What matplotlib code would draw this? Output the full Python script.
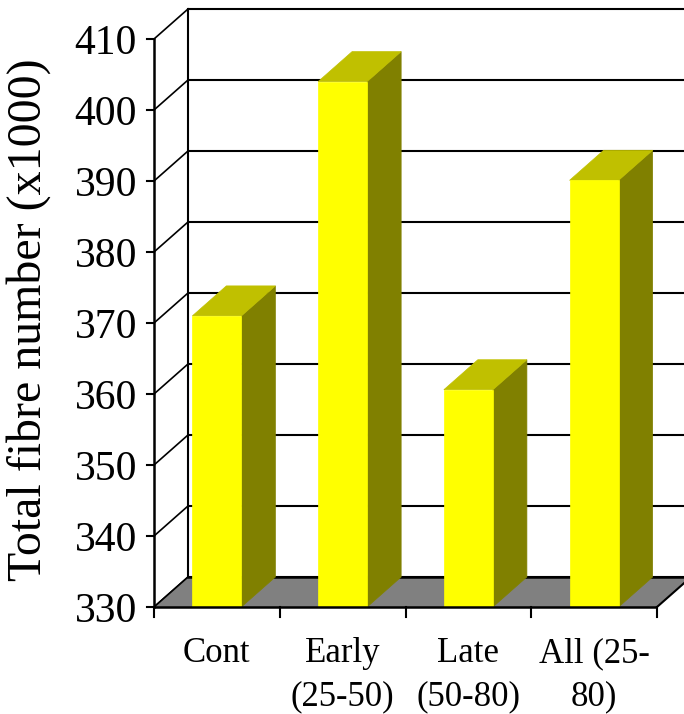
import matplotlib
matplotlib.use("Agg")
import matplotlib.pyplot as plt
from matplotlib.patches import Polygon

categories = ["Cont", "Early\n(25-50)", "Late\n(50-80)", "All (25-\n80)"]
values = [371.0, 404.0, 360.6, 390.1]
y_ticks = [330, 340, 350, 360, 370, 380, 390, 400, 410]
y_label = "Total fibre number (x1000)"

FRONT = "#FFFF00"
TOP = "#C0C000"
SIDE = "#808000"
FLOOR = "#808080"

plt.rcParams["font.family"] = ["Liberation Serif", "DejaVu Serif"]

W, H = 684, 714
fig = plt.figure(figsize=(W / 100, H / 100), dpi=100)
ax = fig.add_axes([0, 0, 1, 1])

# pixel scale of the front plane
px_per_cat = 125.75
px_per_val = 7.1
x0_px, y0_px = 154, 607
vmin, vmax = y_ticks[0], y_ticks[-1]
ax.set_xlim(-x0_px / px_per_cat, (W - x0_px) / px_per_cat)
ax.set_ylim(vmin - (H - y0_px) / px_per_val, vmin + y0_px / px_per_val)
ax.axis("off")

# 3-D depth offset (back plane relative to front plane)
dx = 34 / px_per_cat
dy = 30 / px_per_val
ncat = len(categories)
xfar = ncat + dx + 0.5

# back wall gridlines and left wall
for v in y_ticks:
    ax.plot([dx, xfar], [v + dy, v + dy], color="black", lw=1.5, zorder=1,
            solid_capstyle="butt")
    ax.plot([0, dx], [v, v + dy], color="black", lw=1.2, zorder=1)
ax.plot([dx, dx], [vmin + dy, vmax + dy], color="black", lw=1.5, zorder=1)

# floor
floor = Polygon([(0, vmin), (ncat, vmin), (ncat + dx, vmin + dy), (xfar, vmin + dy),
                 (xfar, vmin + dy), (dx, vmin + dy)], closed=True,
                facecolor=FLOOR, edgecolor="none", zorder=2)
ax.add_patch(floor)
ax.plot([dx, xfar], [vmin + dy, vmin + dy], color="black", lw=1.8, zorder=2.5)
ax.plot([0, ncat], [vmin, vmin], color="black", lw=1.8, zorder=5,
        solid_capstyle="butt")
ax.plot([ncat, ncat + dx * 1.4], [vmin, vmin + dy * 1.4], color="black", lw=1.5, zorder=5)
ax.plot([0, dx], [vmin, vmin + dy], color="black", lw=1.2, zorder=5)

# bars
bw = 0.39
for i, v in enumerate(values):
    xl = i + 0.5 - bw / 2
    xr = xl + bw
    side = Polygon([(xr, vmin), (xr + dx, vmin + dy), (xr + dx, v + dy), (xr, v)],
                   closed=True, facecolor=SIDE, edgecolor=SIDE, lw=0.5, zorder=3)
    top = Polygon([(xl, v), (xr, v), (xr + dx, v + dy), (xl + dx, v + dy)],
                  closed=True, facecolor=TOP, edgecolor=TOP, lw=0.5, zorder=3)
    front = Polygon([(xl, vmin), (xr, vmin), (xr, v), (xl, v)],
                    closed=True, facecolor=FRONT, edgecolor=FRONT, lw=0.5, zorder=4)
    for p in (side, top, front):
        ax.add_patch(p)

# front value axis with ticks and labels
ax.plot([0, 0], [vmin, vmax], color="black", lw=1.8, zorder=6)
tick_len_x = 7 / px_per_cat
for v in y_ticks:
    ax.plot([-tick_len_x, 0], [v, v], color="black", lw=1.5, zorder=6)
    ax.text(-17 / px_per_cat, v, str(v), ha="right", va="center_baseline",
            fontsize=30, zorder=7)

# category ticks and labels
tick_len_y = 10 / px_per_val
for i in range(ncat + 1):
    ax.plot([i, i], [vmin, vmin - tick_len_y], color="black", lw=1.5, zorder=6)
for i, lab in enumerate(categories):
    ax.text(i + 0.5, vmin - 30 / px_per_val, lab, ha="center", va="top",
            fontsize=25, linespacing=1.4, zorder=7)

ax.text(-(x0_px - 29) / px_per_cat, vmin + (y0_px - 320) / px_per_val, y_label,
        rotation=90, ha="center", va="center", fontsize=34.5, zorder=7)

fig.savefig("out.png", dpi=100)
